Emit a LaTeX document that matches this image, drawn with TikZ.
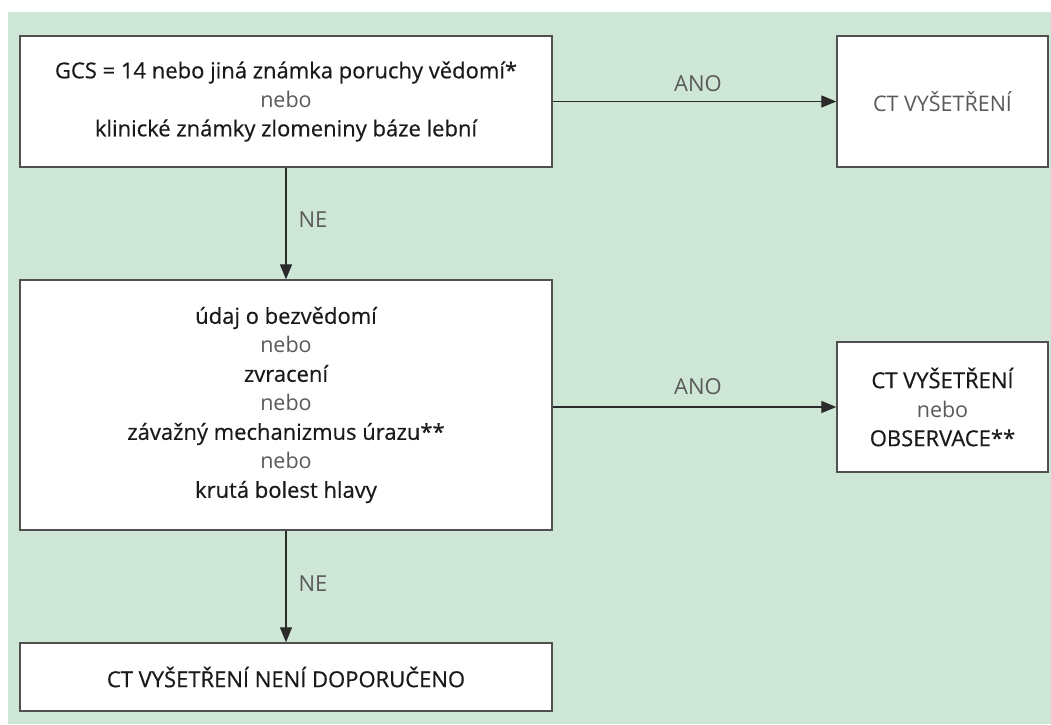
\documentclass[tikz,border=0pt]{standalone}
\usepackage{fontspec}
\setmainfont{Open Sans}
\newfontfamily\darkfont[FakeBold=0.5]{Open Sans}
\usetikzlibrary{arrows.meta}
\definecolor{bggreen}{HTML}{CDE6D6}
\definecolor{darktext}{HTML}{1A1A1A}
\definecolor{lighttext}{HTML}{5A5A5A}
\definecolor{boxline}{HTML}{505050}
\definecolor{arrowline}{HTML}{2A2A2A}
\tikzset{
  x=1pt, y=-1pt,
  flowbox/.style={draw=boxline, line width=1.4pt, fill=white, rectangle, align=center,
    inner sep=0pt, text=darktext, font=\darkfont\fontsize{22}{29}\selectfont},
  flowarrow/.style={draw=arrowline, line width=1.3pt, -{Triangle[length=15pt,width=12pt]}},
  flowlabel/.style={text=lighttext, font=\fontsize{22}{26}\selectfont, inner sep=0pt},
}
\newcommand{\lite}[1]{{\color{lighttext}\normalfont\fontsize{21.5}{29}\selectfont #1}}
\begin{document}
\begin{tikzpicture}
\useasboundingbox (0,0) rectangle (1051,724);
\fill[white] (0,0) rectangle (1051,724);
\fill[bggreen] (8,12) rectangle (1051,724);

\node[flowbox, minimum width=532pt, minimum height=131pt] (q1) at (286,101.5)
  {GCS = 14 nebo jiná známka poruchy vědomí*\\ \lite{nebo}\\ klinické známky zlomeniny báze lební};
\node[flowbox, minimum width=211pt, minimum height=131pt] (ct1) at (942.5,101.5)
  {\lite{CT VYŠETŘENÍ}};
\node[flowbox, minimum width=532pt, minimum height=250pt] (q2) at (286,405)
  {údaj o bezvědomí\\ \lite{nebo}\\ zvracení\\ \lite{nebo}\\ závažný mechanizmus úrazu**\\ \lite{nebo}\\ krutá bolest hlavy};
\node[flowbox, minimum width=211pt, minimum height=130pt] (ct2) at (942.5,407)
  {CT VYŠETŘENÍ\\ \lite{nebo}\\ OBSERVACE**};
\node[flowbox, minimum width=532pt, minimum height=68pt] (none) at (286,677)
  {CT VYŠETŘENÍ NENÍ DOPORUČENO};

\draw[flowarrow] (q1.east) -- (ct1.west);
\draw[flowarrow] (q2.east |- ct2.west) -- (ct2.west);
\draw[flowarrow] (q1.south) -- (q2.north);
\draw[flowarrow] (q2.south) -- (none.north);

\node[flowlabel] (ano1) at (698,84) {ANO};
\node[flowlabel] (ano2) at (698,387) {ANO};
\node[flowlabel] (ne1) at (313,220) {NE};
\node[flowlabel] (ne2) at (313,584) {NE};
\end{tikzpicture}
\end{document}
